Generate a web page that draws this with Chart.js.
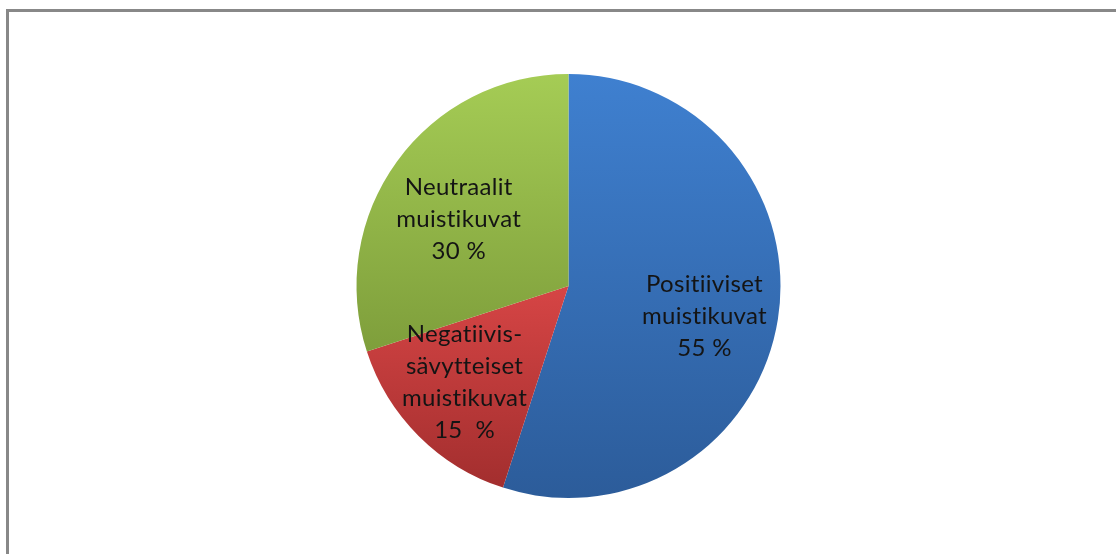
<!DOCTYPE html>
<html>
<head>
<meta charset="utf-8">
<script src="https://cdn.jsdelivr.net/npm/chart.js@4"></script>
<style>
  body { margin: 0; background: #fff; }
  #frame {
    position: absolute; left: 6px; top: 9px; width: 1200px; height: 600px;
    border-top: 3px solid #888; border-left: 3px solid #888;
  }
  #wrap { position: absolute; left: 0; top: 0; width: 1116px; height: 554px; }
</style>
</head>
<body>
<div id="frame"></div>
<div id="wrap"><canvas id="pieChart"></canvas></div>
<script>
// data
const categories = [
  ['Positiiviset', 'muistikuvat'],
  ['Negatiivis-', 'sävytteiset', 'muistikuvat'],
  ['Neutraalit', 'muistikuvat']
];
const values = [55, 15, 30];
const valueLabels = ['55 %', '15  %', '30 %'];

// gradient colours per slice: [stop, colour]
const sliceStops = [
  [[0, '#3f80d0'], [1, '#2c5c9a']],
  [[0.5, '#d64545'], [1, '#a02d2d']],
  [[0, '#a5cc55'], [0.66, '#7e9e3b']]
];
// small nudges of the label blocks (px)
const labelNudge = [[2, 9], [-8, 0], [0, 13]];

// labels inside the slices
const sliceLabels = {
  id: 'sliceLabels',
  afterDatasetsDraw(chart) {
    const c = chart.ctx;
    const meta = chart.getDatasetMeta(0);
    c.save();
    c.font = '24px Lato';
    c.letterSpacing = '0.3px';
    c.fillStyle = '#141414';
    c.textAlign = 'center';
    c.textBaseline = 'middle';
    meta.data.forEach((arc, i) => {
      const p = arc.getProps(['x', 'y', 'startAngle', 'endAngle', 'outerRadius'], true);
      const mid = (p.startAngle + p.endAngle) / 2;
      const r = p.outerRadius * 0.64;
      const cx = p.x + Math.cos(mid) * r + labelNudge[i][0];
      const cy = p.y + Math.sin(mid) * r + labelNudge[i][1];
      const lines = categories[i].concat([valueLabels[i]]);
      const lh = 32;
      lines.forEach((t, j) => {
        c.fillText(t, cx, cy + (j - (lines.length - 1) / 2) * lh);
      });
    });
    c.restore();
  }
};

window.onload = function () {
  const ctx = document.getElementById('pieChart');
  new Chart(ctx, {
    type: 'pie',
    data: {
      labels: categories.map(l => l.join(' ')),
      datasets: [{
        data: values,
        borderWidth: 0,
        backgroundColor: function (context) {
          const chart = context.chart;
          const area = chart.chartArea;
          const stops = sliceStops[context.dataIndex];
          if (!area) return stops[0][1];
          const g = chart.ctx.createLinearGradient(0, area.top, 0, area.bottom);
          stops.forEach(s => g.addColorStop(s[0], s[1]));
          return g;
        }
      }]
    },
    options: {
      responsive: true,
      maintainAspectRatio: false,
      animation: false,
      layout: { padding: { top: 74, bottom: 56, left: 356, right: 335 } },
      plugins: {
        legend: { display: false },
        tooltip: { enabled: false }
      }
    },
    plugins: [sliceLabels]
  });
};
</script>
</body>
</html>
